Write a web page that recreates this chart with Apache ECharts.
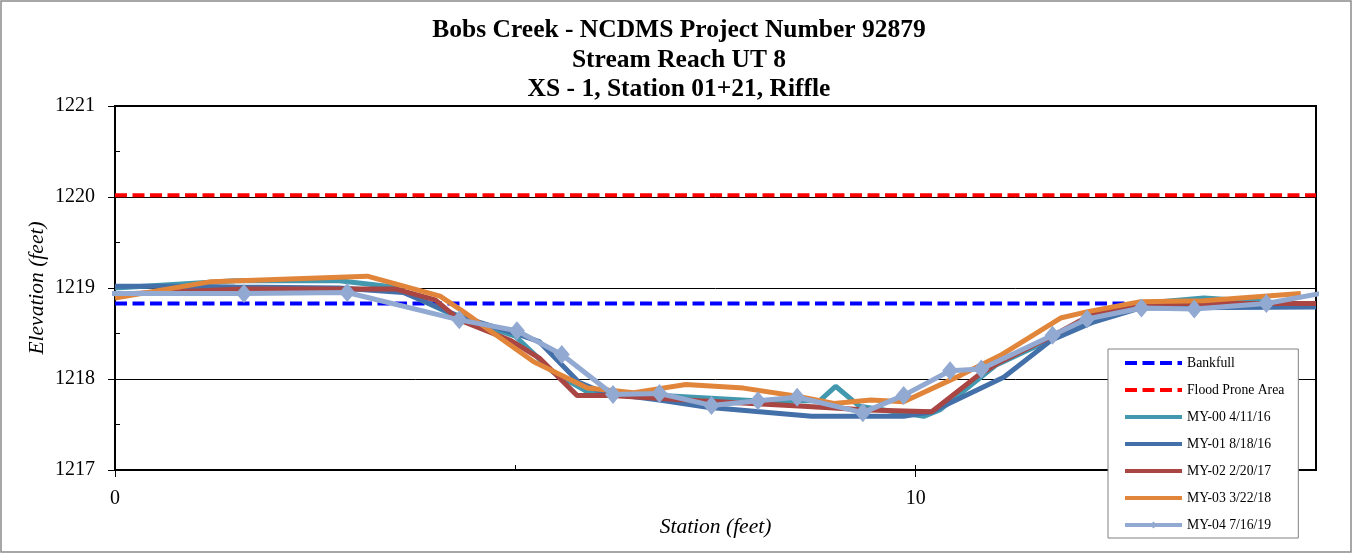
<!DOCTYPE html>
<html>
<head>
<meta charset="utf-8">
<script src="https://cdn.jsdelivr.net/npm/echarts@6/dist/echarts.min.js"></script>
<style>
html,body{margin:0;padding:0;background:#fff;}
#chart{width:1353px;height:554px;}
</style>
</head>
<body>
<div id="chart"></div>
<script>
// ---- Data (station ft, elevation ft) ----
const titleLines = ['Bobs Creek - NCDMS Project Number 92879', 'Stream Reach UT 8', 'XS - 1, Station 01+21, Riffle'];
const xTickLabels = ['0', '10'];
const bankfull = [[0, 1218.83], [15, 1218.83]];
const floodProne = [[0, 1220.02], [15, 1220.02]];
const my00 = [[0,1219.00],[1.5,1219.08],[2.8,1219.08],[3.48,1219.01],[4.3,1218.67],[5.0,1218.47],[5.48,1218.07],[5.9,1217.86],[6.3,1217.84],[7.0,1217.81],[8.0,1217.76],[8.8,1217.76],[9.0,1217.92],[9.3,1217.70],[10.1,1217.59],[10.3,1217.66],[11.0,1218.15],[11.8,1218.48],[12.2,1218.65],[12.8,1218.83],[13.6,1218.89],[15.0,1218.81]];
const my01 = [[0,1219.02],[0.6,1219.02],[1.5,1219.01],[2.8,1219.00],[3.6,1218.95],[4.3,1218.69],[5.0,1218.50],[5.3,1218.41],[5.8,1217.96],[6.1,1217.85],[6.8,1217.77],[7.4,1217.69],[8.7,1217.59],[9.85,1217.59],[10.2,1217.64],[11.1,1218.02],[11.7,1218.43],[12.2,1218.62],[12.8,1218.78],[15.0,1218.79]];
const my02 = [[0,1218.93],[1.6,1218.99],[3.5,1218.99],[4.0,1218.87],[4.3,1218.65],[4.95,1218.42],[5.3,1218.23],[5.77,1217.82],[6.2,1217.82],[7.3,1217.76],[8.6,1217.70],[9.4,1217.66],[10.2,1217.64],[10.78,1218.04],[11.06,1218.19],[11.7,1218.47],[12.2,1218.71],[12.8,1218.83],[15.0,1218.83]];
const my03 = [[0,1218.89],[1.2,1219.07],[3.15,1219.13],[4.06,1218.91],[4.35,1218.74],[5.23,1218.19],[5.9,1217.90],[6.48,1217.85],[7.13,1217.94],[7.85,1217.90],[8.52,1217.81],[8.98,1217.73],[9.44,1217.77],[9.85,1217.75],[10.56,1218.04],[11.06,1218.26],[11.81,1218.67],[12.15,1218.74],[12.81,1218.85],[13.6,1218.86],[14.81,1218.94]];
const my04 = [[-0.3,1218.94],[1.61,1218.94],[2.90,1218.95],[4.30,1218.65],[5.02,1218.53],[5.58,1218.27],[6.22,1217.83],[6.80,1217.84],[7.45,1217.71],[8.03,1217.76],[8.52,1217.80],[9.34,1217.63],[9.85,1217.82],[10.43,1218.09],[10.82,1218.11],[11.71,1218.48],[12.14,1218.66],[12.82,1218.78],[13.48,1218.77],[14.38,1218.83],[15.3,1218.98]];

const FONT = '"Liberation Serif", "Times New Roman", serif';
const chart = echarts.init(document.getElementById('chart'), null, {renderer: 'canvas'});

function lineSeries(name, data, color, extra) {
  return Object.assign({
    name: name, type: 'line', data: data, xAxisIndex: 0, yAxisIndex: 0,
    symbol: 'none', showSymbol: false, animation: false, clip: true,
    lineStyle: {color: color, width: 5},
    itemStyle: {color: color}
  }, extra || {});
}
const hideSym = {itemStyle: {color: 'rgba(0,0,0,0)', opacity: 0, borderWidth: 0}};

const option = {
  backgroundColor: '#fff',
  animation: false,
  title: {
    text: titleLines.join('\n'),
    left: 679, top: 16, textAlign: 'center', padding: 0,
    textStyle: {fontFamily: FONT, fontWeight: 'bold', fontSize: 25.5, lineHeight: 29.5, color: '#000'}
  },
  graphic: [{
    type: 'rect', shape: {x: 1, y: 1, width: 1350, height: 551},
    style: {fill: 'none', stroke: '#8a8a8a', lineWidth: 1.5}, silent: true, z: 100
  }],
  grid: {left: 115, right: 37, top: 106, bottom: 84, show: true, borderColor: '#000', borderWidth: 2, backgroundColor: 'transparent'},
  legend: {
    orient: 'vertical', left: 1108, top: 349,
    padding: [7, 14, 6, 15], itemGap: 13, itemWidth: 57, itemHeight: 9,
    backgroundColor: '#fff', borderColor: '#808080', borderWidth: 1, borderRadius: 0,
    lineStyle: {width: 4},
    textStyle: {fontFamily: FONT, fontSize: 13.7, color: '#000'},
    data: [
      Object.assign({name: 'Bankfull'}, hideSym),
      Object.assign({name: 'Flood Prone Area'}, hideSym),
      Object.assign({name: 'MY-00 4/11/16'}, hideSym),
      Object.assign({name: 'MY-01 8/18/16'}, hideSym),
      Object.assign({name: 'MY-02 2/20/17'}, hideSym),
      Object.assign({name: 'MY-03 3/22/18'}, hideSym),
      {name: 'MY-04 7/16/19'}
    ]
  },
  xAxis: [{
    type: 'value', min: 0, max: 15, interval: 10, position: 'bottom',
    name: 'Station (feet)', nameLocation: 'middle', nameGap: 46,
    nameTextStyle: {fontFamily: FONT, fontStyle: 'italic', fontSize: 21.5, color: '#000'},
    axisLine: {show: true, lineStyle: {color: '#000', width: 2}},
    axisTick: {show: true, inside: false, length: 7, lineStyle: {color: '#000', width: 1}},
    axisLabel: {show: true, margin: 19, showMaxLabel: false, fontFamily: FONT, fontSize: 20, color: '#000',
      formatter: function (v) { return xTickLabels.indexOf(String(v)) >= 0 ? String(v) : ''; }},
    splitLine: {show: false}
  }, {
    type: 'value', min: 0, max: 15, interval: 5, position: 'bottom',
    axisLine: {show: false}, axisLabel: {show: false}, splitLine: {show: false},
    axisTick: {show: true, inside: true, length: 5, lineStyle: {color: '#000', width: 1}}
  }],
  yAxis: [{
    type: 'value', min: 1217, max: 1221, interval: 1, position: 'left',
    name: 'Elevation (feet)', nameLocation: 'middle', nameGap: 67, nameMoveOverlap: false,
    nameTextStyle: {fontFamily: FONT, fontStyle: 'italic', fontSize: 21.5, color: '#000'},
    axisLine: {show: true, lineStyle: {color: '#000', width: 2}},
    axisTick: {show: true, inside: false, length: 7, lineStyle: {color: '#000', width: 1}},
    axisLabel: {show: true, margin: 20, fontFamily: FONT, fontSize: 20, color: '#000',
      formatter: function (v) { return String(v); }},
    splitLine: {show: true, lineStyle: {color: '#000', width: 1}}
  }, {
    type: 'value', min: 1217, max: 1221, interval: 0.5, position: 'left',
    axisLine: {show: false}, axisLabel: {show: false}, splitLine: {show: false},
    axisTick: {show: true, inside: true, length: 5, lineStyle: {color: '#000', width: 1}}
  }],
  series: [
    lineSeries('Bankfull', bankfull, '#0000ff', {lineStyle: {color: '#0000ff', width: 4, type: [12, 5.5]}}),
    lineSeries('Flood Prone Area', floodProne, '#ff0000', {lineStyle: {color: '#ff0000', width: 4, type: [12, 5.5]}}),
    lineSeries('MY-00 4/11/16', my00, '#4198af'),
    lineSeries('MY-01 8/18/16', my01, '#4470a9'),
    lineSeries('MY-02 2/20/17', my02, '#a94543'),
    lineSeries('MY-03 3/22/18', my03, '#e0853a'),
    lineSeries('MY-04 7/16/19', my04, '#92a9d1', {symbol: 'diamond', showSymbol: true, symbolSize: [16, 19]})
  ]
};
chart.setOption(option);
</script>
</body>
</html>
